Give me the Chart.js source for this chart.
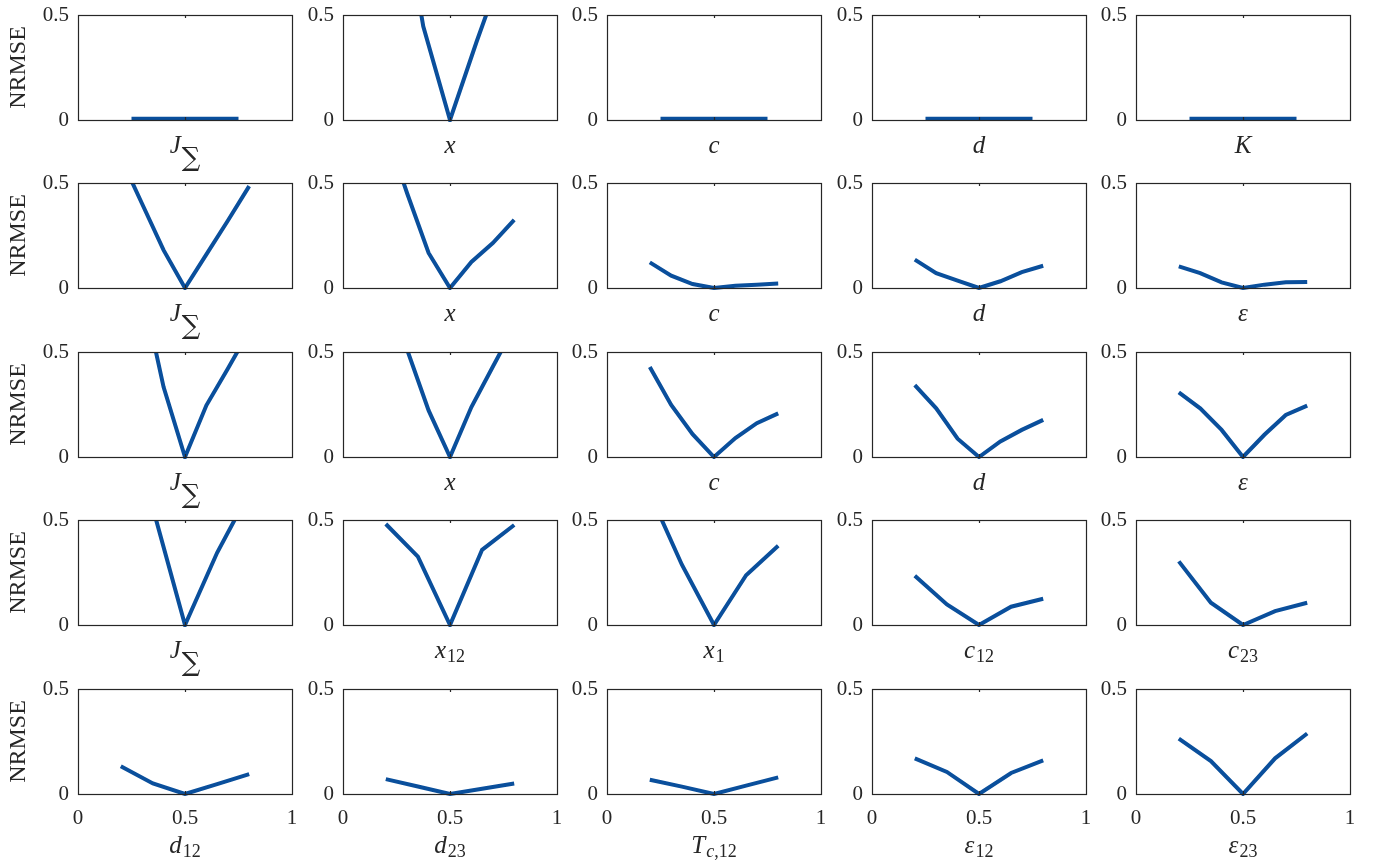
<!DOCTYPE html>
<html><head><meta charset="utf-8">
<script src="https://cdn.jsdelivr.net/npm/chart.js@4.4.0/dist/chart.umd.min.js"></script>
<style>
html,body{margin:0;padding:0;background:#fff;}
body{width:1375px;height:863px;overflow:hidden;position:relative;}
canvas{position:absolute;}
</style></head><body>
<script>
// ---------- DATA ----------
const xTickValues = [0, 0.5, 1];
const xTickLabels = ['0', '0.5', '1'];
const yTickValues = [0, 0.5];
const yTickLabels = ['0', '0.5'];
const yAxisLabel = 'NRMSE';

// parameter grids (x positions of samples)
const gridRow1 = [0.25, 0.375, 0.5, 0.625, 0.75];
const grid7 = [0.2, 0.3, 0.4, 0.5, 0.6, 0.7, 0.8];
const grid5 = [0.2, 0.35, 0.5, 0.65, 0.8];

// row 1
const r1_J = [0.006, 0.006, 0.006, 0.006, 0.006];
const r1_x = [1.2, 0.446, 0, 0.375, 0.73];
const r1_c = [0.006, 0.006, 0.006, 0.006, 0.006];
const r1_d = [0.006, 0.006, 0.006, 0.006, 0.006];
const r1_K = [0.006, 0.006, 0.006, 0.006, 0.006];
// row 2
const r2_J = [0.62, 0.40, 0.18, 0, 0.16, 0.32, 0.485];
const r2_x = [0.75, 0.45, 0.167, 0, 0.124, 0.214, 0.324];
const r2_c = [0.122, 0.059, 0.019, 0, 0.011, 0.016, 0.021];
const r2_d = [0.135, 0.071, 0.035, 0, 0.032, 0.076, 0.106];
const r2_e = [0.103, 0.071, 0.027, 0, 0.016, 0.027, 0.029];
// row 3
const r3_J = [1.3, 0.8, 0.333, 0, 0.246, 0.42, 0.6];
const r3_x = [0.8, 0.51, 0.222, 0, 0.238, 0.43, 0.62];
const r3_c = [0.429, 0.248, 0.109, 0, 0.09, 0.161, 0.208];
const r3_d = [0.342, 0.232, 0.087, 0, 0.074, 0.129, 0.177];
const r3_e = [0.308, 0.232, 0.129, 0, 0.106, 0.20, 0.245];
// row 4
const r4_J = [1.0, 0.556, 0, 0.344, 0.63];
const r4_x12 = [0.481, 0.326, 0, 0.358, 0.476];
const r4_x1 = [0.627, 0.287, 0, 0.237, 0.377];
const r4_c12 = [0.235, 0.098, 0, 0.087, 0.125];
const r4_c23 = [0.303, 0.106, 0, 0.066, 0.106];
// row 5
const r5_d12 = [0.132, 0.05, 0, 0.047, 0.095];
const r5_d23 = [0.071, 0.036, 0, 0.025, 0.05];
const r5_Tc12 = [0.068, 0.035, 0, 0.04, 0.079];
const r5_e12 = [0.17, 0.105, 0, 0.1, 0.16];
const r5_e23 = [0.264, 0.157, 0, 0.17, 0.288];

// axis labels: [main symbol, subscript]
const labels = [
  [['J','∑'], ['x',''], ['c',''], ['d',''], ['K','']],
  [['J','∑'], ['x',''], ['c',''], ['d',''], ['ε','']],
  [['J','∑'], ['x',''], ['c',''], ['d',''], ['ε','']],
  [['J','∑'], ['x','12'], ['x','1'], ['c','12'], ['c','23']],
  [['d','12'], ['d','23'], ['T','c,12'], ['ε','12'], ['ε','23']]
];
const series = [
  [[gridRow1,r1_J],[gridRow1,r1_x],[gridRow1,r1_c],[gridRow1,r1_d],[gridRow1,r1_K]],
  [[grid7,r2_J],[grid7,r2_x],[grid7,r2_c],[grid7,r2_d],[grid7,r2_e]],
  [[grid7,r3_J],[grid7,r3_x],[grid7,r3_c],[grid7,r3_d],[grid7,r3_e]],
  [[grid5,r4_J],[grid5,r4_x12],[grid5,r4_x1],[grid5,r4_c12],[grid5,r4_c23]],
  [[grid5,r5_d12],[grid5,r5_d23],[grid5,r5_Tc12],[grid5,r5_e12],[grid5,r5_e23]]
];

// ---------- LAYOUT / STYLE ----------
const colLeft = [78, 343, 607, 872, 1136];
const rowTop = [15, 183, 352, 520, 689];
const PW = 214, PH = 105;
const PADL = 78, PADT = 15, PADR = 14, PADB = 72;
const LINE = '#0a4f9c';
const INK = '#262626';
const SERIF = '"Liberation Serif", "Times New Roman", serif';

function drawRichLabel(ctx, cx, baseY, main, sub) {
  const mainFont = 'italic 25px ' + SERIF;
  const segs = [];
  if (sub === '∑') {
    segs.push({t: '∑', font: '26px "DejaVu Serif", serif', dy: 13});
  } else {
    for (const ch of sub) {
      const it = /[A-Za-z]/.test(ch);
      segs.push({t: ch, font: (it ? 'italic ' : '') + '18px ' + SERIF, dy: 4});
    }
  }
  ctx.font = mainFont;
  const mw = ctx.measureText(main).width;
  let total = mw + (segs.length ? 1 : 0);
  for (const s of segs) { ctx.font = s.font; s.w = ctx.measureText(s.t).width; total += s.w; }
  let x = cx - total / 2;
  ctx.fillStyle = INK;
  ctx.textAlign = 'left';
  ctx.textBaseline = 'alphabetic';
  ctx.font = mainFont;
  ctx.fillText(main, x, baseY);
  x += mw + (segs.length ? 1 : 0);
  for (const s of segs) { ctx.font = s.font; ctx.fillText(s.t, x, baseY + s.dy); x += s.w; }
}

const decorPlugin = {
  id: 'decor',
  afterDraw(chart, args, o) {
    const ctx = chart.ctx, a = chart.chartArea;
    const xs = chart.scales.x;
    ctx.save();
    ctx.strokeStyle = INK;
    ctx.lineWidth = 1.2;
    ctx.strokeRect(Math.round(a.left) + 0.5, Math.round(a.top) + 0.5,
                   Math.round(a.right) - Math.round(a.left), Math.round(a.bottom) - Math.round(a.top));
    const px = Math.round(xs.getPixelForValue(0.5)) + 0.5;
    ctx.beginPath();
    ctx.moveTo(px, a.top); ctx.lineTo(px, a.top + 3);
    ctx.moveTo(px, a.bottom); ctx.lineTo(px, a.bottom - 3);
    ctx.stroke();
    drawRichLabel(ctx, (a.left + a.right) / 2, a.bottom + o.labelOffset, o.main, o.sub);
    if (o.showYLabel) {
      ctx.translate(25, (a.top + a.bottom) / 2);
      ctx.rotate(-Math.PI / 2);
      ctx.font = '24px ' + SERIF;
      ctx.fillStyle = INK;
      ctx.textAlign = 'center';
      ctx.textBaseline = 'alphabetic';
      ctx.fillText(yAxisLabel, 0, 0);
    }
    ctx.restore();
  }
};

function zeroPad(s) { s.paddingLeft = 0; s.paddingRight = 0; s.paddingTop = 0; s.paddingBottom = 0; }

for (let r = 0; r < 5; r++) {
  for (let c = 0; c < 5; c++) {
    const cv = document.createElement('canvas');
    const W = PADL + PW + PADR, H = PADT + PH + PADB;
    cv.width = W; cv.height = H;
    cv.style.left = (colLeft[c] - PADL) + 'px';
    cv.style.top = (rowTop[r] - PADT) + 'px';
    cv.style.width = W + 'px'; cv.style.height = H + 'px';
    document.body.appendChild(cv);
    const [gx, gy] = series[r][c];
    const pts = gx.map((v, i) => ({x: v, y: gy[i]}));
    const isBottom = r === 4;
    new Chart(cv.getContext('2d'), {
      type: 'line',
      data: { datasets: [{
        data: pts,
        borderColor: LINE,
        borderWidth: 4,
        pointRadius: 0,
        fill: false,
        tension: 0,
        borderJoinStyle: 'miter',
        borderCapStyle: 'butt',
        clip: {left: 2, right: 2, top: 0, bottom: 2}
      }]},
      options: {
        responsive: false,
        animation: false,
        devicePixelRatio: 1,
        layout: { padding: {left: 0, top: PADT, right: PADR, bottom: 0} },
        plugins: {
          legend: {display: false},
          tooltip: {enabled: false},
          decor: {main: labels[r][c][0], sub: labels[r][c][1],
                  labelOffset: isBottom ? 59 : 33, showYLabel: c === 0}
        },
        scales: {
          x: {
            type: 'linear', min: 0, max: 1,
            grid: {display: false, drawTicks: false},
            border: {display: false},
            afterBuildTicks: s => { s.ticks = xTickValues.map(v => ({value: v})); },
            afterFit: s => { s.height = PADB; zeroPad(s); },
            ticks: {
              display: isBottom,
              padding: 12,
              color: INK,
              maxRotation: 0,
              autoSkip: false,
              font: {family: SERIF, size: 21},
              callback: (v) => xTickLabels[xTickValues.indexOf(v)]
            }
          },
          y: {
            type: 'linear', min: 0, max: 0.5,
            grid: {display: false, drawTicks: false},
            border: {display: false},
            afterBuildTicks: s => { s.ticks = yTickValues.map(v => ({value: v})); },
            afterFit: s => { s.width = PADL; zeroPad(s); },
            ticks: {
              padding: 9,
              color: INK,
              autoSkip: false,
              font: {family: SERIF, size: 21},
              callback: (v) => yTickLabels[yTickValues.indexOf(v)]
            }
          }
        }
      },
      plugins: [decorPlugin]
    });
  }
}
</script>
</body></html>
